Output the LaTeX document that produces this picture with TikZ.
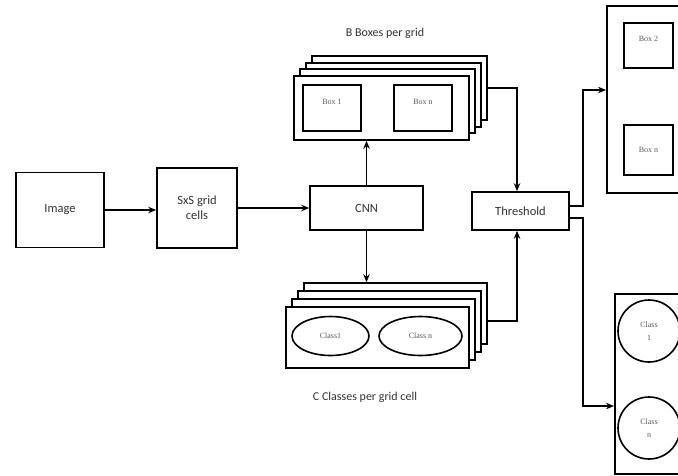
\documentclass[tikz,border=0pt]{standalone}
\usepackage{fontspec}
\setmainfont{Carlito}
\newfontfamily\smallserif{Liberation Serif}
\usetikzlibrary{arrows.meta,shapes.geometric}
\begin{document}
\begin{tikzpicture}[x=1pt,y=-1pt,line width=1.6pt,
  blk/.style={draw,fill=white,inner sep=0pt,font=\fontsize{12.5}{15}\selectfont,text=black!80,align=center},
  layer/.style={draw,fill=white,inner sep=0pt},
  inbox/.style={draw,fill=white,inner sep=0pt,font=\smallserif\fontsize{8}{9.5}\selectfont,text=black!65,align=center},
  captext/.style={font=\fontsize{12}{14}\selectfont,text=black!80},
  arr/.style={-{Stealth[length=8pt,width=6.5pt]}}]
\useasboundingbox (0,0) rectangle (678,475);
\begin{scope}
\clip (0,0) rectangle (678,475);
% left chain
\node[blk,minimum width=88pt,minimum height=75pt] (img) at (60,210) {Image};
\node[blk,minimum width=80pt,minimum height=80pt] (grid) at (197,208) {SxS grid\\cells};
\node[blk,minimum width=113pt,minimum height=44pt] (cnn) at (366.5,208) {CNN};
\node[blk,minimum width=97pt,minimum height=38pt] (thr) at (520.5,211) {Threshold};
% top stack
\node[layer,minimum width=175pt,minimum height=64pt] (tb3) at (399.5,88) {};
\node[layer,minimum width=175pt,minimum height=64pt] (tb2) at (393.5,95) {};
\node[layer,minimum width=175pt,minimum height=64pt] (tb1) at (387.5,101) {};
\node[layer,minimum width=175pt,minimum height=64pt] (tb0) at (381.5,108) {};
\node[inbox,minimum width=58pt,minimum height=46pt,anchor=north] (box1) at (332,84) {\raisebox{12pt}{Box 1}};
\node[inbox,minimum width=58pt,minimum height=46pt,anchor=north] (boxn) at (423,84) {\raisebox{12pt}{Box n}};
\node[captext] (tcap) at (385,33) {B Boxes per grid};
% bottom stack
\node[layer,minimum width=183pt,minimum height=61pt] (cb3) at (395.5,313.5) {};
\node[layer,minimum width=183pt,minimum height=61pt] (cb2) at (389.5,321.5) {};
\node[layer,minimum width=183pt,minimum height=61pt] (cb1) at (383.5,329.5) {};
\node[layer,minimum width=183pt,minimum height=61pt] (cb0) at (377.5,337.5) {};
\node[inbox,ellipse,minimum width=77pt,minimum height=39pt] (cl1) at (330.5,336) {Class1};
\node[inbox,ellipse,minimum width=83pt,minimum height=39pt] (cln) at (420.5,336) {Class n};
\node[captext] (bcap) at (365,397) {C Classes per grid cell};
% right outputs
\node[layer,minimum width=110pt,minimum height=187pt,anchor=north west] (rtop) at (606,5) {};
\node[inbox,minimum width=49pt,minimum height=45pt,anchor=north] (rb2) at (648.5,22) {\raisebox{12pt}{Box 2}};
\node[inbox,minimum width=49pt,minimum height=50pt,anchor=north] (rbn) at (648.5,124) {Box n};
\node[layer,minimum width=110pt,minimum height=180pt,anchor=north west] (rbot) at (614,293) {};
\node[inbox,circle,minimum size=62pt] (rc1) at (649,331) {Class\\[3pt]1};
\node[inbox,circle,minimum size=62pt] (rcn) at (649,428) {Class\\[3pt]n};
% connectors
\draw[arr] (img.east) -- (grid.west |- img.east);
\draw[arr] (grid.east |- cnn.west) -- (cnn.west);
\draw[arr] (cnn.north) -- (cnn.north |- tb0.south);
\draw[arr] (cnn.south) -- (cnn.south |- cb3.north);
\coordinate (tjoin) at (517,88);
\coordinate (bjoin) at (517,321);
\draw[arr] (tb3.east |- tjoin) -- (tjoin) -- (tjoin |- thr.north);
\draw[arr] (cb3.east |- bjoin) -- (bjoin) -- (bjoin |- thr.south);
\coordinate (u1) at (583,206);
\coordinate (u2) at (583,90);
\coordinate (d1) at (583,218);
\coordinate (d2) at (583,406);
\draw[arr] (thr.east |- u1) -- (u1) -- (u2) -- (rtop.west |- u2);
\draw[arr] (thr.east |- d1) -- (d1) -- (d2) -- (rbot.west |- d2);
\end{scope}
\end{tikzpicture}
\end{document}
